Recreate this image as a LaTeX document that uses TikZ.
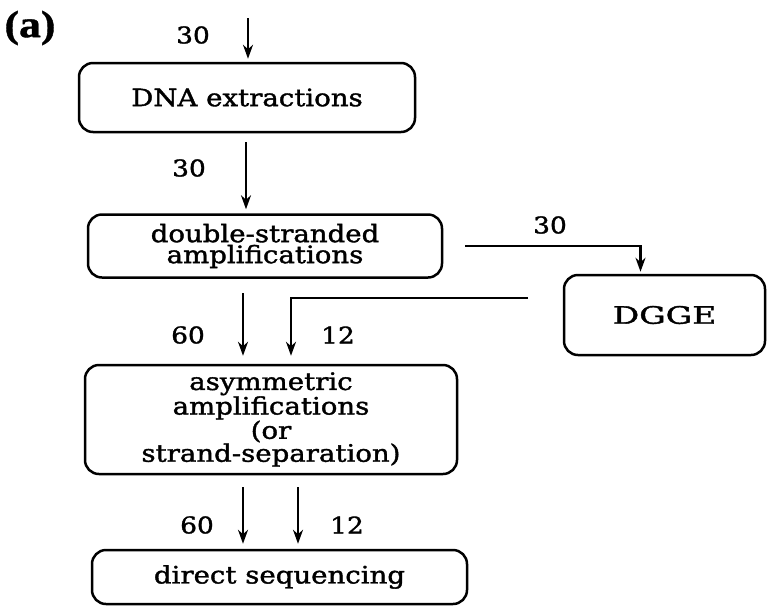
\documentclass[tikz,border=0pt]{standalone}
\usepackage{fontspec}
\usepackage{graphicx}
\setmainfont{DejaVu Serif}[FakeStretch=1.15, FakeBold=1.5]
\newfontfamily\tagfont{Liberation Serif}[FakeStretch=1.15, FakeBold=1]
\usetikzlibrary{arrows.meta}
\begin{document}
\begin{tikzpicture}[x=1pt,y=-1pt,
  box/.style={draw, line width=2.5pt, rounded corners=14pt, inner sep=0pt, align=center,
              font=\fontsize{24}{21}\selectfont},
  lbl/.style={font=\fontsize{23}{24}\selectfont, inner sep=0pt},
  arr/.style={line width=2.3pt, -{Stealth[length=14pt,width=10pt]}}]
\useasboundingbox (0,0) rectangle (768,606);

\node[font=\tagfont\bfseries\fontsize{38}{40}\selectfont, inner sep=0pt] (tag) at (30,28) {(a)};

\node[box, minimum width=336pt, minimum height=69pt] (dna) at (247,97.5) {DNA extractions};
\node[box, minimum width=354pt, minimum height=63pt] (ds) at (265,246) {double-stranded\\amplifications};
\node[box, minimum width=201pt, minimum height=80pt] (dgge) at (664.5,315) {\scalebox{1.2}[1]{DGGE}};
\node[box, minimum width=372pt, minimum height=109pt] (asym) at (271,419.5) {asymmetric\\amplifications\\(or\\strand-separation)};
\node[box, minimum width=375pt, minimum height=54pt] (seq) at (279.5,577) {direct sequencing};

\coordinate (a1) at (248,18);
\coordinate (a2) at (246,142);
\coordinate (a3) at (465,246);
\coordinate (a4) at (528,298);
\coordinate (a5) at (243,293);
\coordinate (a6) at (243,487);
\coordinate (a7) at (298,487);

\draw[arr, shorten >=3pt] (a1) -- (a1 |- dna.north);
\draw[arr, shorten >=4pt] (a2) -- (a2 |- ds.north);
\draw[arr, shorten >=2pt] (a3) -| ([xshift=-24pt]dgge.north);
\draw[arr, shorten >=8pt] (a4) -| ([xshift=20pt]asym.north);
\draw[arr, shorten >=8pt] (a5) -- (a5 |- asym.north);
\draw[arr, shorten >=5pt] (a6) -- (a6 |- seq.north);
\draw[arr, shorten >=5pt] (a7) -- (a7 |- seq.north);

\node[lbl] (l1) at (193,35) {30};
\node[lbl] (l2) at (189,168) {30};
\node[lbl] (l3) at (550,225) {30};
\node[lbl] (l4) at (188,335) {60};
\node[lbl] (l5) at (338,335) {12};
\node[lbl] (l6) at (197,525) {60};
\node[lbl] (l7) at (347,525) {12};
\end{tikzpicture}
\end{document}
